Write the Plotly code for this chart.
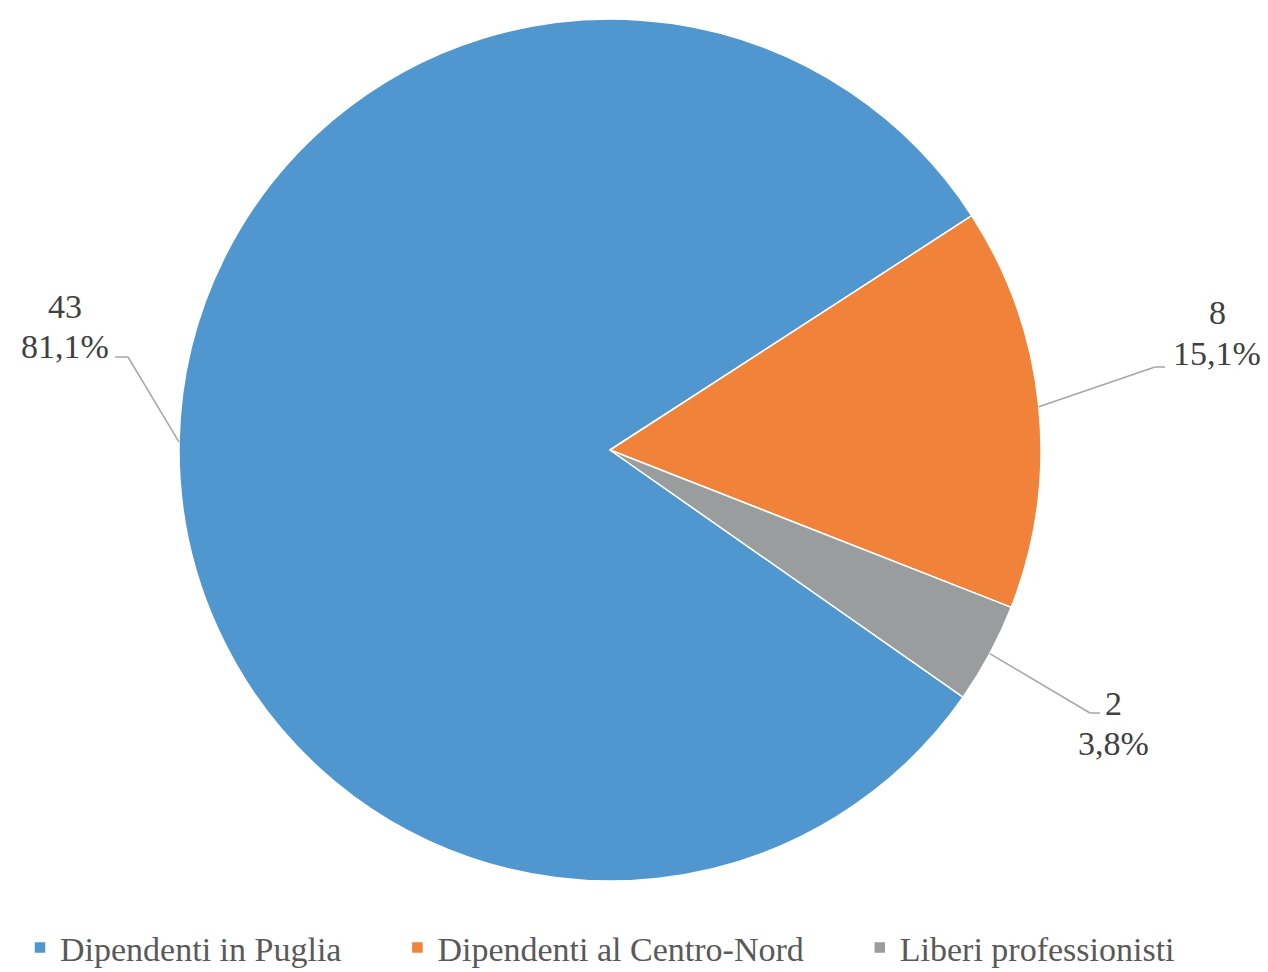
import math
import plotly.graph_objects as go

# Data
categories = ["Dipendenti in Puglia", "Dipendenti al Centro-Nord", "Liberi professionisti"]
counts = [43, 8, 2]

# Styling
colors = ["#5097d0", "#f1823a", "#9a9d9d"]
W, H = 1268, 972
CX, CY, R = 610, 450, 431          # pie centre and radius in pixels
ROTATION = 125                      # start of first slice, degrees clockwise from 12 o'clock
FONT = "Liberation Serif"
LINE_GAP = 40                       # vertical distance between the two label lines (px)

# Label placement in pixels: (elbow of leader, end of short tick, text centre)
label_layout = [
    ((128, 357), (115, 357), (65, 327)),
    ((1155, 367), (1165, 367), (1217, 333)),
    ((1090, 713), (1100, 713), (1113, 723)),
]

def px(x):
    return x / W

def py(y):
    return 1 - y / H

total = sum(counts)
shapes, annotations = [], []
angle = ROTATION
for v, (elbow, tick, centre) in zip(counts, label_layout):
    span = 360 * v / total
    mid = math.radians(angle + span / 2)
    angle += span
    # point on the circumference at the middle of the slice
    ex, ey = CX + R * math.sin(mid), CY - R * math.cos(mid)
    for (x0, y0), (x1, y1) in (((ex, ey), elbow), (elbow, tick)):
        shapes.append(dict(type="line", xref="paper", yref="paper",
                           x0=px(x0), y0=py(y0), x1=px(x1), y1=py(y1),
                           line=dict(color="#a6a6a6", width=1.5)))
    pct = f"{v / total * 100:.1f}".replace(".", ",") + "%"
    for txt, dy in ((str(v), -LINE_GAP / 2), (pct, LINE_GAP / 2)):
        annotations.append(dict(text=txt, x=px(centre[0]), y=py(centre[1] + dy),
                                xref="paper", yref="paper", showarrow=False,
                                xanchor="center", yanchor="middle",
                                font=dict(family=FONT, size=34, color="#404040")))

pad = "\u00a0" * 6
legend_names = [c + pad for c in categories[:-1]] + [categories[-1]]

fig = go.Figure(go.Pie(
    labels=legend_names,
    values=counts,
    sort=False,
    direction="clockwise",
    rotation=ROTATION,
    textinfo="none",
    hoverinfo="label+value+percent",
    marker=dict(colors=colors, line=dict(color="white", width=1.5)),
    domain=dict(x=[px(CX - R), px(CX + R)], y=[py(CY + R), py(CY - R)]),
))

fig.update_layout(
    width=W, height=H,
    margin=dict(l=0, r=0, t=0, b=0, autoexpand=False),
    paper_bgcolor="white",
    shapes=shapes,
    annotations=annotations,
    showlegend=True,
    legend=dict(orientation="h", x=px(20), xanchor="left", y=py(948), yanchor="middle",
                font=dict(family=FONT, size=34, color="#595959"),
                bgcolor="rgba(0,0,0,0)"),
)

fig.write_html("out.html")
